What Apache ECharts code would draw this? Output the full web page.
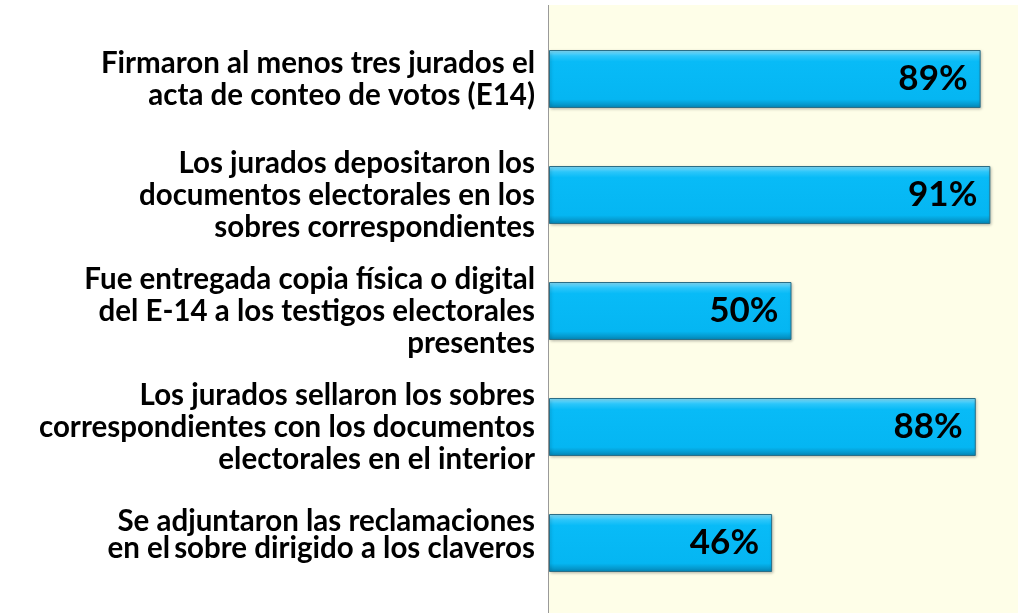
<!DOCTYPE html>
<html>
<head>
<meta charset="utf-8">
<script src="https://cdn.jsdelivr.net/npm/echarts@6/dist/echarts.min.js"></script>
<style>html,body{margin:0;padding:0;background:#fff}#c{width:1018px;height:613px}</style>
</head>
<body>
<div id="c"></div>
<script>
const categories = [
  "Firmaron al menos tres jurados el\nacta de conteo de votos (E14)",
  "Los jurados depositaron los\ndocumentos electorales en los\nsobres correspondientes",
  "Fue entregada copia física o digital\ndel E-14 a los testigos electorales\npresentes",
  "Los jurados sellaron los sobres\ncorrespondientes con los documentos\nelectorales en el interior",
  "Se adjuntaron las reclamaciones\nen el sobre dirigido a los claveros"
];
const values = [89, 91, 50, 88, 46];

const chart = echarts.init(document.getElementById('c'), null, {renderer: 'canvas'});
const FONT = 'Lato';
const base = {fontFamily: FONT, fontWeight: 'bold', fontSize: 29.5, color: '#000'};
chart.setOption({
  animation: false,
  backgroundColor: '#ffffff',
  graphic: [
    {type: 'rect', z: -10, silent: true, shape: {x: 549, y: 5, width: 470, height: 610}, style: {fill: '#FEFEE8'}},
    {type: 'line', z: -9, silent: true, shape: {x1: 548.5, y1: 5, x2: 548.5, y2: 613}, style: {stroke: '#9a9a9a', lineWidth: 1}}
  ],
  grid: {left: 549, top: 21, right: 0, height: 580, containLabel: false},
  xAxis: {
    type: 'value', min: 0, max: 96.7, show: false
  },
  yAxis: {
    type: 'category', data: categories, inverse: true,
    axisLine: {show: false}, axisTick: {show: false},
    axisLabel: {
      fontFamily: FONT, fontWeight: 'bold', fontSize: 29.5, lineHeight: 32,
      color: '#000', margin: 14, align: 'right',
      formatter: function (v) {
        const lines = v.split('\n');
        if (lines.length === 2 && lines[1].indexOf('en el ') === 0) {
          return '{n|' + lines[0] + '}\n{u|en el}{d|' + lines[1].slice(6) + '}\n{s| }';
        }
        return v;
      },
      rich: {
        n: Object.assign({lineHeight: 24}, base),
        u: Object.assign({lineHeight: 18, verticalAlign: 'top', padding: [0, 4, 0, 0]}, base),
        d: Object.assign({lineHeight: 30, verticalAlign: 'bottom'}, base),
        s: Object.assign({lineHeight: 14}, base)
      }
    }
  },
  series: [{
    type: 'bar', data: values, barWidth: 58,
    itemStyle: {
      color: {type: 'linear', x: 0, y: 0, x2: 0, y2: 1, colorStops: [
        {offset: 0, color: '#8ee4ff'},
        {offset: 0.1, color: '#2cc6fa'},
        {offset: 0.2, color: '#08bbf7'},
        {offset: 0.85, color: '#05b6f2'},
        {offset: 1, color: '#0485b4'}
      ]},
      borderColor: '#2b6e86', borderWidth: 1,
      shadowColor: 'rgba(0,0,0,0.25)', shadowBlur: 3, shadowOffsetX: 1, shadowOffsetY: 1
    },
    label: {
      show: true, position: 'insideRight', distance: 13,
      formatter: '{c}%', fontFamily: FONT, fontWeight: 'bold', fontSize: 35, color: '#000'
    }
  }]
});
</script>
</body>
</html>
